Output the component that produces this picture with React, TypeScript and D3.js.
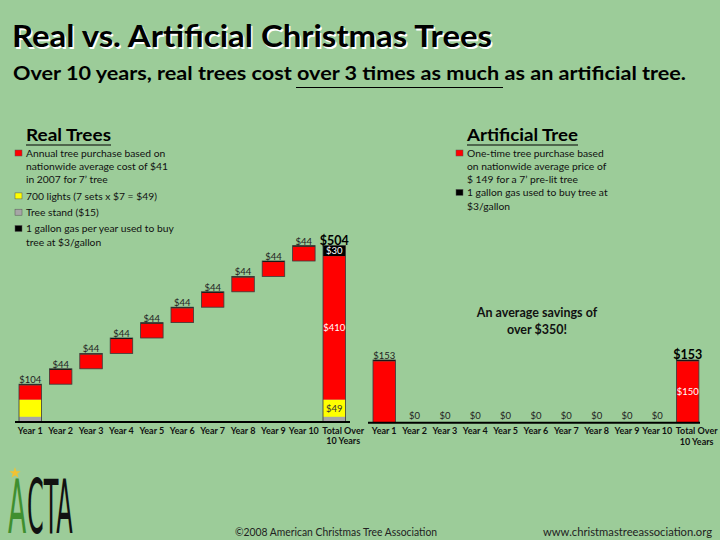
import React from "react";
import * as d3 from "d3";

const categories = ["Year 1", "Year 2", "Year 3", "Year 4", "Year 5", "Year 6", "Year 7", "Year 8", "Year 9", "Year 10", "Total"];
const categoryLines = [["Year 1"], ["Year 2"], ["Year 3"], ["Year 4"], ["Year 5"], ["Year 6"], ["Year 7"], ["Year 8"], ["Year 9"], ["Year 10"], ["Total Over", "10 Years"]];

// Real trees (stacked segments, waterfall for yearly bars)
const realStand = [15, 0, 0, 0, 0, 0, 0, 0, 0, 0, 15];
const realLights = [49, 0, 0, 0, 0, 0, 0, 0, 0, 0, 49];
const realTree = [41, 41, 41, 41, 41, 41, 41, 41, 41, 41, 410];
const realGas = [3, 3, 3, 3, 3, 3, 3, 3, 3, 3, 30];
const realLabels = ["$104", "$44", "$44", "$44", "$44", "$44", "$44", "$44", "$44", "$44", "$504"];
const realTotalInner = { gas: "$30", tree: "$410", lights: "$49" };

// Artificial tree
const artTree = [150, 0, 0, 0, 0, 0, 0, 0, 0, 0, 150];
const artGas = [3, 0, 0, 0, 0, 0, 0, 0, 0, 0, 3];
const artLabels = ["$153", "$0", "$0", "$0", "$0", "$0", "$0", "$0", "$0", "$0", "$153"];
const artTotalInner = "$150";

const realLegend = [
  { color: "#ff0000", lines: ["Annual tree purchase based on", "nationwide average cost of $41", "in 2007 for 7\u2019 tree"] },
  { color: "#ffff00", lines: ["700 lights (7 sets x $7 = $49)"] },
  { color: "#a6a6a6", lines: ["Tree stand ($15)"] },
  { color: "#000000", lines: ["1 gallon gas per year used to buy", "tree at $3/gallon"] },
];
const artLegend = [
  { color: "#ff0000", lines: ["One-time tree purchase based", "on nationwide average price of", "$ 149 for a 7\u2019 pre-lit tree"] },
  { color: "#000000", lines: ["1 gallon gas used to buy tree at", "$3/gallon"] },
];

const FONT = "Lato, 'Open Sans', sans-serif";
const BG = "#9ccc99";
const RED = "#ff0000";
const YEL = "#ffff00";
const GRAY = "#a6a6a6";
const OUT = "#3a3a3a";

function Legend({ x, y, title, titleW, items, lineGaps }: any) {
  let cy = y + 25;
  const els: any[] = [];
  items.forEach((it: any, i: number) => {
    els.push(<rect key={"s" + i} x={x - 11} y={cy - 3} width={7} height={6} fill={it.color} stroke="#555" strokeWidth={0.5} />);
    it.lines.forEach((l: string, j: number) => {
      els.push(<text key={`t${i}-${j}`} x={x} y={cy + 3.8} fontSize={10.3} fill="#111">{l}</text>);
      cy += 13.3;
    });
    cy += lineGaps;
  });
  return (
    <g fontFamily={FONT}>
      <text x={x} y={y + 13} fontSize={17} fontWeight="bold" fill="#000" textLength={titleW} lengthAdjust="spacingAndGlyphs">{title}</text>
      <line x1={x} x2={x + titleW} y1={y + 17} y2={y + 17} stroke="#000" strokeWidth={1.2} />
      {els}
    </g>
  );
}

function AxisLabels({ x, baseY }: any) {
  return (
    <g fontFamily={FONT} fontSize={9} fontWeight="bold" fill="#111" textAnchor="middle">
      {categories.map((c, i) => {
        const cx = x(c)! + x.bandwidth() / 2 + (i === categories.length - 1 ? 9 : 0);
        return (
          <text key={c} x={cx} y={baseY + 11.5}>
            {categoryLines[i].map((l, j) => (
              <tspan key={j} x={cx} dy={j === 0 ? 0 : 10.5}>{l}</tspan>
            ))}
          </text>
        );
      })}
    </g>
  );
}

export default function App() {
  const xReal = d3.scaleBand<string>().domain(categories).range([11.1, 353.4]).padding(0.26);
  const yReal = d3.scaleLinear().domain([0, 504]).range([422, 245.6]);
  const xArt = d3.scaleBand<string>().domain(categories).range([365.1, 706.8]).padding(0.26);
  const yArt = d3.scaleLinear().domain([0, 153]).range([422.7, 360]);

  // waterfall bases for real trees
  const realTotals = categories.map((_, i) => realStand[i] + realLights[i] + realTree[i] + realGas[i]);
  const realBases: number[] = [];
  let cum = 0;
  categories.forEach((_, i) => {
    if (i === categories.length - 1) realBases.push(0);
    else { realBases.push(cum); cum += realTotals[i]; }
  });

  const realBars = categories.map((c, i) => {
    const segs = [
      { v: realStand[i], color: GRAY },
      { v: realLights[i], color: YEL },
      { v: realTree[i], color: RED },
      { v: realGas[i], color: "#000" },
    ];
    let b = realBases[i];
    const rects = segs.filter(s => s.v > 0).map((s, k) => {
      const y0 = yReal(b), y1 = yReal(b + s.v);
      b += s.v;
      return { key: k, y: y1, h: y0 - y1, color: s.color };
    });
    return { c, i, rects, top: yReal(realBases[i] + realTotals[i]), bottom: yReal(realBases[i]) };
  });

  const artBars = categories.map((c, i) => {
    const segs = [{ v: artTree[i], color: RED }, { v: artGas[i], color: "#000" }];
    let b = 0;
    const rects = segs.filter(s => s.v > 0).map((s, k) => {
      const y0 = yArt(b), y1 = yArt(b + s.v);
      b += s.v;
      return { key: k, y: y1, h: y0 - y1, color: s.color };
    });
    return { c, i, rects, top: yArt(artTree[i] + artGas[i]), bottom: yArt(0) };
  });

  const last = categories.length - 1;
  const tc = categories[last];
  const star = d3.symbol().type(d3.symbolStar).size(40)();

  return (
    <svg width={720} height={540} style={{ position: "absolute", left: 0, top: 0, display: "block" }} fontFamily={FONT}>
      <rect width={720} height={540} fill={BG} />

      {/* Title */}
      <text x={13.5} y={48.5} fontSize={30} fontWeight="bold" fill="#fff" textLength={480} lengthAdjust="spacingAndGlyphs">Real vs. Artificial Christmas Trees</text>
      <text x={12} y={47} fontSize={30} fontWeight="bold" fill="#000" textLength={480} lengthAdjust="spacingAndGlyphs">Real vs. Artificial Christmas Trees</text>
      <text x={13} y={80} fontSize={19.5} fontWeight="bold" fill="#000" textLength={673} lengthAdjust="spacingAndGlyphs">Over 10 years, real trees cost over 3 times as much as an artificial tree.</text>
      <line x1={296} x2={503} y1={87.5} y2={87.5} stroke="#000" strokeWidth={1.2} />

      <Legend x={26} y={128} title="Real Trees" titleW={85} items={realLegend} lineGaps={3} />
      <Legend x={467} y={128} title="Artificial Tree" titleW={111} items={artLegend} lineGaps={-0.5} />

      {/* Real chart bars */}
      {realBars.map(bar => (
        <g key={bar.c}>
          {bar.rects.map(r => (
            <rect key={r.key} x={xReal(bar.c)} y={r.y} width={xReal.bandwidth()} height={r.h} fill={r.color} />
          ))}
          <rect x={xReal(bar.c)} y={bar.top} width={xReal.bandwidth()} height={bar.bottom - bar.top} fill="none" stroke={OUT} strokeWidth={0.8} />
          <text x={xReal(bar.c)! + xReal.bandwidth() / 2} y={bar.top - 1} textAnchor="middle"
            fontSize={bar.i === last ? 12.5 : 9.5} fontWeight={bar.i === last ? "bold" : "normal"} fill={bar.i === last ? "#000" : "#222"}>
            {realLabels[bar.i]}
          </text>
        </g>
      ))}
      {/* inner labels of real total */}
      <g fontSize={9.5} textAnchor="middle">
        <text x={xReal(tc)! + xReal.bandwidth() / 2} y={yReal(realTotals[last] - realGas[last] / 2) + 3.5} fill="#fff">{realTotalInner.gas}</text>
        <text x={xReal(tc)! + xReal.bandwidth() / 2} y={yReal(realStand[last] + realLights[last] + realTree[last] / 2) + 3.5} fill="#fff">{realTotalInner.tree}</text>
        <text x={xReal(tc)! + xReal.bandwidth() / 2} y={yReal(realStand[last] + realLights[last] / 2) + 3.5} fill="#333">{realTotalInner.lights}</text>
      </g>
      <line x1={15} x2={350} y1={422} y2={422} stroke="#000" strokeWidth={2} />
      <AxisLabels x={xReal} baseY={422} />

      {/* Artificial chart bars */}
      {artBars.map(bar => (
        <g key={bar.c}>
          {bar.rects.map(r => (
            <rect key={r.key} x={xArt(bar.c)} y={r.y} width={xArt.bandwidth()} height={r.h} fill={r.color} />
          ))}
          {bar.rects.length > 0 && (
            <rect x={xArt(bar.c)} y={bar.top} width={xArt.bandwidth()} height={bar.bottom - bar.top} fill="none" stroke={OUT} strokeWidth={0.8} />
          )}
          <text x={xArt(bar.c)! + xArt.bandwidth() / 2} y={bar.top - (bar.rects.length > 0 ? 1.5 : 3.7)} textAnchor="middle"
            fontSize={bar.i === last ? 12.5 : 9.5} fontWeight={bar.i === last ? "bold" : "normal"} fill={bar.i === last ? "#000" : "#222"}>
            {artLabels[bar.i]}
          </text>
        </g>
      ))}
      <text x={xArt(tc)! + xArt.bandwidth() / 2} y={yArt(artTree[last] / 2) + 3.5} fontSize={9.5} textAnchor="middle" fill="#fff">{artTotalInner}</text>
      <line x1={368} x2={700} y1={422.7} y2={422.7} stroke="#000" strokeWidth={2} />
      <AxisLabels x={xArt} baseY={422.7} />

      <g fontSize={12.5} fontWeight="bold" textAnchor="middle" fill="#111">
        <text x={537} y={317}>An average savings of</text>
        <text x={537} y={333.5}>over $350!</text>
      </g>

      {/* Footer */}
      <text x={235} y={536} fontSize={11} fill="#222" textLength={202} lengthAdjust="spacingAndGlyphs">©2008  American Christmas Tree Association</text>
      <text x={543} y={536} fontSize={11} fill="#222" textLength={169} lengthAdjust="spacingAndGlyphs">www.christmastreeassociation.org</text>

      {/* ACTA logo */}
      <g fontFamily="'DejaVu Sans Condensed', 'DejaVu Sans', sans-serif" fontWeight={300}>
        <text transform="translate(8,533) scale(0.4,1)" fontSize={74} fill="#3f8f2f">A</text>
        <text transform="translate(27,533) scale(0.36,1)" fontSize={74} fill="#111">CTA</text>
        <path d={star!} transform="translate(15,473)" fill="#f2c232" />
      </g>
    </svg>
  );
}
